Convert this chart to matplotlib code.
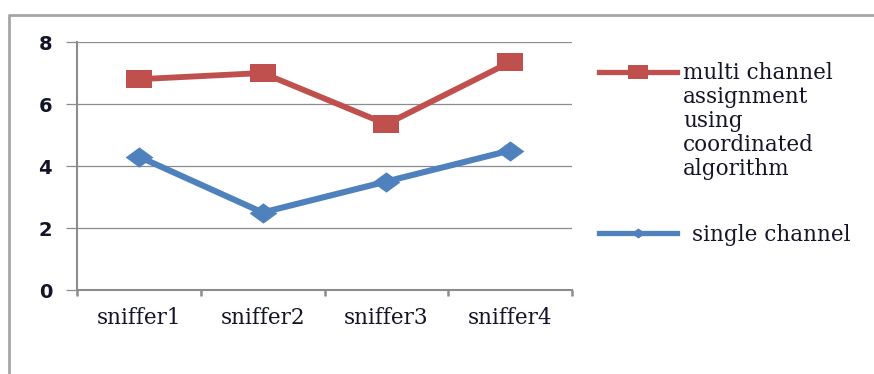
import matplotlib
matplotlib.use("Agg")
import matplotlib.pyplot as plt
from matplotlib.lines import Line2D
from matplotlib.ticker import FixedLocator

# series data
categories = ["sniffer1", "sniffer2", "sniffer3", "sniffer4"]
multi_channel = [6.8, 7.0, 5.35, 7.35]
single_channel = [4.3, 2.5, 3.5, 4.5]
y_ticks = [0, 2, 4, 6, 8]
multi_label = "multi channel\nassignment\nusing\ncoordinated\nalgorithm"
single_label = "single channel"

RED = "#C0504D"
BLUE = "#4F81BD"
GRID = "#8C8C8C"
INK = "#141428"

W, H = 874, 374
fig = plt.figure(figsize=(W / 100, H / 100), dpi=100)
fig.patch.set_facecolor("white")

def fx(px):
    return px / W

def fy(py):
    return 1 - py / H

# outer chart frame (only top and left edges are in view)
fig.add_artist(Line2D([fx(9), fx(9), fx(W + 2)], [fy(H + 2), fy(15), fy(15)],
                      color="#A6A6A6", linewidth=2.0, transform=fig.transFigure))

ax = fig.add_axes([fx(77), fy(290), fx(572) - fx(77), fy(42) - fy(290)])

# wide square and diamond markers
square = [(-1.37, -1), (1.37, -1), (1.37, 1), (-1.37, 1), (-1.37, -1)]
diamond = [(-1.37, 0), (0, 1), (1.37, 0), (0, -1), (-1.37, 0)]

x = list(range(len(categories)))
ax.plot(x, multi_channel, color=RED, linewidth=4.2, marker=square,
        markersize=18.5, markeredgewidth=0, markerfacecolor=RED, zorder=4)
ax.plot(x, single_channel, color=BLUE, linewidth=4.4, marker=diamond,
        markersize=20, markeredgewidth=0, markerfacecolor=BLUE, zorder=4)

ax.set_xlim(-0.5, len(categories) - 0.5)
ax.set_ylim(0, 8)
ax.set_yticks(y_ticks)
ax.set_xticks(x)
ax.set_xticklabels(categories)
ax.xaxis.set_minor_locator(FixedLocator([i - 0.5 for i in range(len(categories) + 1)]))

ax.yaxis.grid(True, color=GRID, linewidth=0.9)
ax.set_axisbelow(True)
for side in ("top", "right"):
    ax.spines[side].set_visible(False)
for side in ("left", "bottom"):
    ax.spines[side].set_color(GRID)
    ax.spines[side].set_linewidth(1.5)

ax.tick_params(axis="y", length=8, width=0.9, color=GRID, pad=10,
               labelsize=14, labelcolor=INK)
ax.tick_params(axis="x", which="major", length=0, pad=12,
               labelsize=15.5, labelcolor=INK)
ax.tick_params(axis="x", which="minor", length=4.5, width=1.8, color=GRID)
for lab in ax.get_yticklabels():
    lab.set_fontfamily("DejaVu Sans")
    lab.set_fontweight("bold")
for lab in ax.get_xticklabels():
    lab.set_fontfamily("DejaVu Serif")

# legend drawn by hand to the right of the plot area
fig.add_artist(Line2D([fx(599), fx(677)], [fy(72), fy(72)], color=RED,
                      linewidth=3.8, transform=fig.transFigure))
fig.add_artist(Line2D([fx(638)], [fy(72)], color=RED, marker=square,
                      markersize=14, markeredgewidth=0, linestyle="none",
                      transform=fig.transFigure))
fig.add_artist(Line2D([fx(599), fx(677)], [fy(233), fy(233)], color=BLUE,
                      linewidth=3.8, transform=fig.transFigure))
fig.add_artist(Line2D([fx(638)], [fy(233)], color=BLUE, marker=diamond,
                      markersize=10, markeredgewidth=0, linestyle="none",
                      transform=fig.transFigure))

fig.text(fx(683), fy(62), multi_label, ha="left", va="top", fontsize=15.5,
         family="DejaVu Serif", color=INK, linespacing=1.12)
fig.text(fx(692), fy(241), single_label, ha="left", va="baseline",
         fontsize=15.5, family="DejaVu Serif", color=INK)

fig.savefig("out.png", dpi=100, facecolor="white")
